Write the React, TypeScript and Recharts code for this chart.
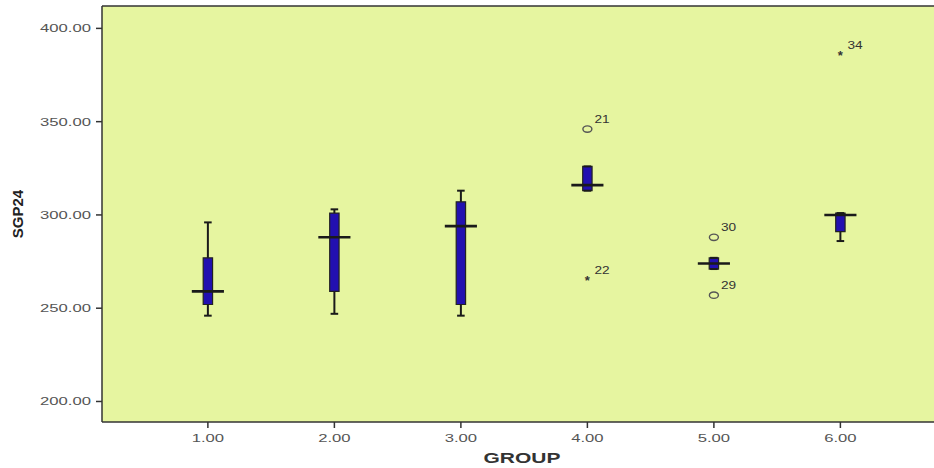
import React from 'react';
import {
  ComposedChart, XAxis, YAxis, CartesianGrid, ReferenceArea, ReferenceLine, Scatter,
} from 'recharts';

// ---- data ----
const groups = [1, 2, 3, 4, 5, 6];
const whiskerLow = [246, 247, 246, 313, 271, 286];
const q1 = [252, 259, 252, 313, 271, 291];
const median = [259, 288, 294, 316, 274, 300];
const q3 = [277, 301, 307, 326, 277, 301];
const whiskerHigh = [296, 303, 313, 326, 277, 301];

const outlierGroup = [4, 4, 5, 5, 6];
const outlierValue = [346, 265, 288, 257, 386];
const outlierId = ['21', '22', '30', '29', '34'];
const outlierKind = ['circle', 'star', 'circle', 'circle', 'star'];

const xTicks = [1, 2, 3, 4, 5, 6];
const yTicks = [200, 250, 300, 350, 400];
const xDomain = [0.163, 6.74];
const yDomain = [189, 412];

const outliers = outlierGroup.map((g, i) => ({
  group: g, value: outlierValue[i], id: outlierId[i], kind: outlierKind[i],
}));

// ---- styles ----
const BG = '#e6f5a0';
const BOX = '#2210b0';
const INK = '#1a1a1a';
const TICK_COLOR = '#555';
const FONT = '"Liberation Sans", Arial, sans-serif';
const boxHalf = 0.037;
const capHalf = 0.03;
const medHalf = 0.127;

const XTick = (props: any) => {
  const { x, y, payload } = props;
  return (
    <text transform={`translate(${x},${y + 12}) scale(1.45,1)`} textAnchor="middle"
      fontSize={11.5} fontFamily={FONT} fill={TICK_COLOR}>
      {Number(payload.value).toFixed(2)}
    </text>
  );
};

const YTick = (props: any) => {
  const { x, y, payload } = props;
  return (
    <text transform={`translate(${x - 3},${y + 4}) scale(1.45,1)`} textAnchor="end"
      fontSize={11.5} fontFamily={FONT} fill={TICK_COLOR}>
      {Number(payload.value).toFixed(2)}
    </text>
  );
};

const OutlierShape = (props: any) => {
  const { cx, cy, payload } = props;
  if (cx == null || cy == null) return <g />;
  const marker = payload.kind === 'circle'
    ? <ellipse cx={cx} cy={cy} rx={4.5} ry={3.2} fill="none" stroke="#555" strokeWidth={1.4} />
    : <text x={cx} y={cy + 5} textAnchor="middle" fontSize={13} fontWeight="bold" fontFamily={FONT} fill="#333">*</text>;
  return (
    <g>
      {marker}
      <text transform={`translate(${cx + 7},${cy - 6}) scale(1.3,1)`} fontSize={10.5}
        fontFamily={FONT} fill="#333">{payload.id}</text>
    </g>
  );
};

export default function App() {
  return (
    <div style={{ position: 'absolute', left: 0, top: 0, background: '#fff' }}>
      <ComposedChart width={934} height={468} margin={{ top: 6, right: 0, bottom: 0, left: 0 }}
        data={outliers}>
        <CartesianGrid fill={BG} stroke="none" vertical={false} horizontal={false} />
        <XAxis type="number" dataKey="group" domain={xDomain} ticks={xTicks} allowDataOverflow
          height={46} tickSize={6} tick={<XTick />} stroke="#333" strokeWidth={1.5}
          tickLine={{ stroke: '#333' }}
          label={{
            content: (p: any) => {
              const vb = p.viewBox;
              return (
                <text transform={`translate(${vb.x + vb.width / 2 + 4},${vb.y + 41}) scale(1.5,1)`}
                  textAnchor="middle" fontSize={14} fontWeight="bold" fontFamily={FONT} fill="#333">GROUP</text>
              );
            },
          }} />
        <YAxis type="number" domain={yDomain} ticks={yTicks} allowDataOverflow width={102}
          tickSize={6} tick={<YTick />} stroke="#333" strokeWidth={1.5}
          tickLine={{ stroke: '#333' }}
          label={{
            content: (p: any) => {
              const vb = p.viewBox;
              const cy = vb.y + vb.height / 2;
              return (
                <text transform={`translate(${vb.x + 23},${cy}) rotate(-90)`} textAnchor="middle"
                  fontSize={15} fontWeight="bold" fontFamily={FONT} fill="#222">SGP24</text>
              );
            },
          }} />
        <ReferenceLine y={yDomain[1]} stroke="#333" strokeWidth={1.5} ifOverflow="visible" />
        {groups.map((g, i) => (
          <ReferenceLine key={`wl${g}`} ifOverflow="visible" stroke={INK} strokeWidth={2}
            segment={[{ x: g, y: whiskerLow[i] }, { x: g, y: q1[i] }]} />
        ))}
        {groups.map((g, i) => (
          <ReferenceLine key={`wh${g}`} ifOverflow="visible" stroke={INK} strokeWidth={2}
            segment={[{ x: g, y: q3[i] }, { x: g, y: whiskerHigh[i] }]} />
        ))}
        {groups.map((g, i) => (
          <ReferenceLine key={`cl${g}`} ifOverflow="visible" stroke={INK} strokeWidth={2}
            segment={[{ x: g - capHalf, y: whiskerLow[i] }, { x: g + capHalf, y: whiskerLow[i] }]} />
        ))}
        {groups.map((g, i) => (
          <ReferenceLine key={`ch${g}`} ifOverflow="visible" stroke={INK} strokeWidth={2}
            segment={[{ x: g - capHalf, y: whiskerHigh[i] }, { x: g + capHalf, y: whiskerHigh[i] }]} />
        ))}
        {groups.map((g, i) => (
          <ReferenceArea key={`b${g}`} x1={g - boxHalf} x2={g + boxHalf} y1={q1[i]} y2={q3[i]}
            fill={BOX} fillOpacity={1} stroke="#222" strokeWidth={1.2} ifOverflow="visible" />
        ))}
        {groups.map((g, i) => (
          <ReferenceLine key={`m${g}`} ifOverflow="visible" stroke={INK} strokeWidth={2.6}
            segment={[{ x: g - medHalf, y: median[i] }, { x: g + medHalf, y: median[i] }]} />
        ))}
        <Scatter dataKey="value" isAnimationActive={false} shape={<OutlierShape />} />
      </ComposedChart>
    </div>
  );
}
